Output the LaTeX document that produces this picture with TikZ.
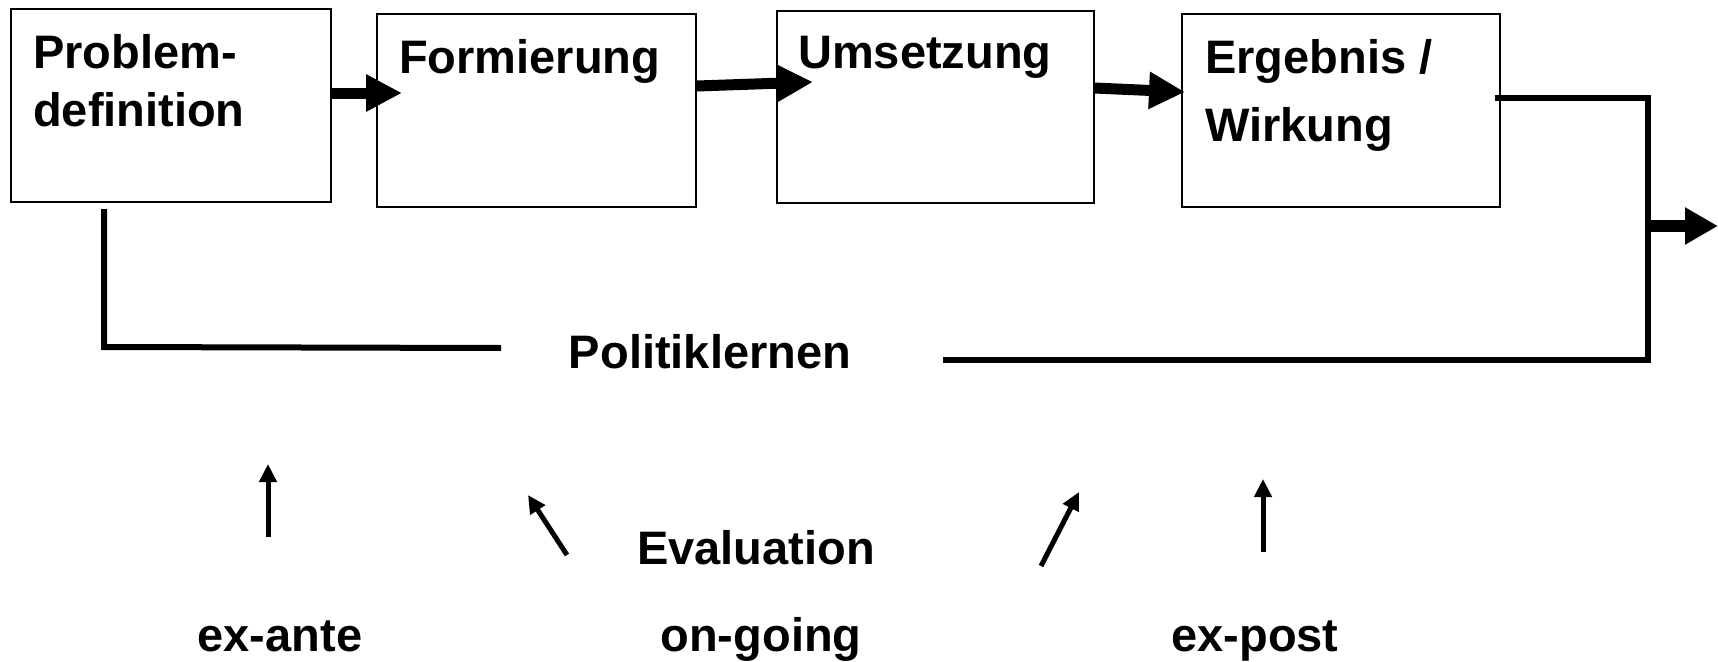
\documentclass[tikz,border=0pt]{standalone}
\usepackage{fontspec}
\setmainfont{Liberation Sans}
\usetikzlibrary{arrows.meta}
\tikzset{
  box/.style={draw=black, line width=2pt, rectangle, inner sep=0pt},
  lbl/.style={inner sep=0pt, font=\fontsize{47}{57}\selectfont\bfseries},
  bigarrow/.style={line width=11pt, -{Triangle[length=36pt,width=35pt]}},
  outarrow/.style={line width=12pt, -{Triangle[length=33pt,width=35pt]}},
  smallarrow/.style={line width=5pt, -{Triangle[length=18pt,width=17pt]}},
  feedback/.style={line width=6pt, line join=miter}
}
\begin{document}
\begin{tikzpicture}[x=1pt,y=-1pt]
\useasboundingbox (0,0) rectangle (1718,661);
% boxes
\node[box, minimum width=320pt, minimum height=193pt] (b1) at (171,105.5) {};
\node[box, minimum width=319pt, minimum height=193pt] (b2) at (536.5,110.5) {};
\node[box, minimum width=317pt, minimum height=192pt] (b3) at (935.5,107) {};
\node[box, minimum width=318pt, minimum height=193pt] (b4) at (1341,110.5) {};
% box texts
\node[lbl, anchor=base west] (t1a) at (33,68) {Problem-};
\node[lbl, anchor=base west] (t1b) at (33,126) {definition};
\node[lbl, anchor=base west] (t2) at (399,74) {Formierung};
\node[lbl, anchor=base west] (t3) at (798,69) {Umsetzung};
\node[lbl, anchor=base west] (t4a) at (1205,74) {Ergebnis /};
\node[lbl, anchor=base west] (t4b) at (1205,141) {Wirkung};
% flow arrows
\coordinate (a1s) at (331,93);
\coordinate (a1e) at (402,93);
\coordinate (a2s) at (697,86);
\coordinate (a2e) at (813,82);
\coordinate (a3s) at (1094,88);
\coordinate (a3e) at (1185,92);
\draw[bigarrow] (a1s) -- (a1e);
\draw[bigarrow] (a2s) -- (a2e);
\draw[bigarrow] (a3s) -- (a3e);
% Politiklernen and feedback lines
\node[lbl, anchor=base] (pl) at (710,368) {Politiklernen};
\coordinate (f1s) at (104,209);
\coordinate (f1c) at (104,347);
\coordinate (f1e) at (501,348);
\draw[feedback] (f1s) -- (f1c) -- (f1e);
\coordinate (f2s) at (1495,98);
\coordinate (f2c1) at (1648,98);
\coordinate (f2c2) at (1648,360);
\coordinate (f2e) at (943,360);
\draw[feedback] (f2s) -- (f2c1) -- (f2c2) -- (f2e);
\coordinate (os) at (1648,226);
\coordinate (oe) at (1718,226);
\draw[outarrow] (os) -- (oe);
% evaluation
\node[lbl, anchor=base] (ev) at (756,564) {Evaluation};
\node[lbl, anchor=base] (ea) at (280,651) {ex-ante};
\node[lbl, anchor=base] (og) at (761,651) {on-going};
\node[lbl, anchor=base] (ep) at (1255,651) {ex-post};
\coordinate (sAs) at (268,537);
\coordinate (sAe) at (268,464);
\coordinate (sBs) at (567,555);
\coordinate (sBe) at (528,495);
\coordinate (sCs) at (1041,566);
\coordinate (sCe) at (1079,492);
\coordinate (sDs) at (1263,552);
\coordinate (sDe) at (1263,479);
\draw[smallarrow] (sAs) -- (sAe);
\draw[smallarrow] (sBs) -- (sBe);
\draw[smallarrow] (sCs) -- (sCe);
\draw[smallarrow] (sDs) -- (sDe);
\end{tikzpicture}
\end{document}
